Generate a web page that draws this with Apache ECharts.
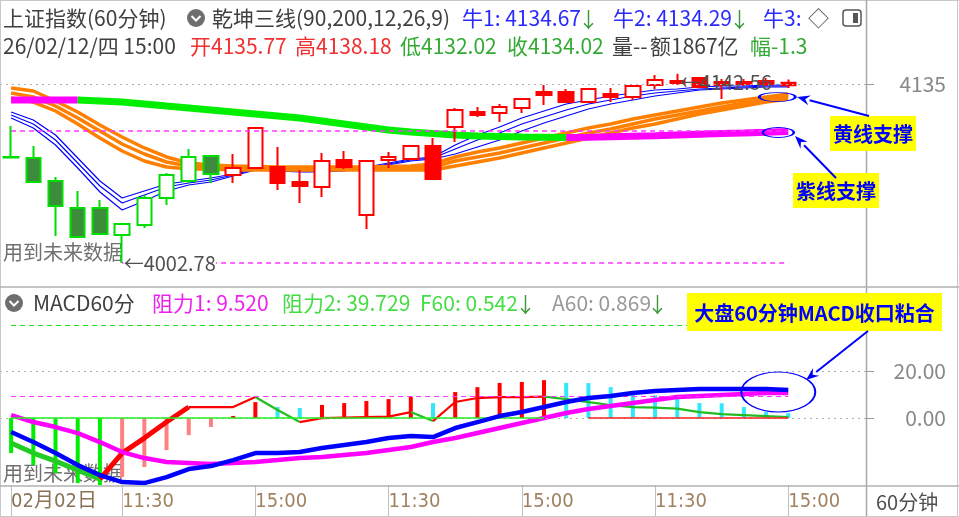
<!DOCTYPE html>
<html>
<head>
<meta charset="utf-8">
<script src="https://cdn.jsdelivr.net/npm/echarts@6/dist/echarts.min.js"></script>
<style>
html,body{margin:0;padding:0;background:#ffffff;}
#chart{width:959px;height:517px;}
</style>
</head>
<body>
<div id="chart"></div>
<script>
// ---------------- data ----------------
const barTimes = [
  '02/02 10:30','02/02 11:30','02/02 14:00','02/02 15:00',
  '02/03 10:30','02/03 11:30','02/03 14:00','02/03 15:00',
  '02/04 10:30','02/04 11:30','02/04 14:00','02/04 15:00',
  '02/05 10:30','02/05 11:30','02/05 14:00','02/05 15:00',
  '02/06 10:30','02/06 11:30','02/06 14:00','02/06 15:00',
  '02/09 10:30','02/09 11:30','02/09 14:00','02/09 15:00',
  '02/10 10:30','02/10 11:30','02/10 14:00','02/10 15:00',
  '02/11 10:30','02/11 11:30','02/11 14:00','02/11 15:00',
  '02/12 10:30','02/12 11:30','02/12 14:00','02/12 15:00'
];
const emptySlots = ['+1', '+2', '+3'];
const axisTickLabels = {0:'02月02日', 5:'11:30', 11:'15:00', 17:'11:30', 23:'15:00', 29:'11:30', 35:'15:00'};

// [open, close, low, high]
const candleOCLH = [
  [4081.0,4080.6,4080.3,4103.9],[4080.3,4062.6,4061.8,4089.1],[4063.3,4044.9,4022.7,4066.3],
  [4043.4,4022.0,4021.5,4055.9],[4043.4,4024.2,4023.4,4049.3],[4023.4,4031.6,4002.78,4032.3],
  [4030.8,4050.8,4028.6,4053.0],[4050.8,4067.7,4045.6,4069.2],[4063.3,4081.0,4061.8,4086.9],
  [4081.8,4068.5,4061.8,4082.5],[4067.7,4072.9,4061.8,4083.2],[4072.9,4102.4,4072.2,4103.2],
  [4073.6,4061.8,4056.7,4088.4],[4062.6,4059.6,4047.1,4071.4],[4058.9,4078.1,4051.5,4084.0],
  [4078.8,4073.6,4072.2,4085.4],[4038.2,4078.1,4027.9,4078.8],[4078.8,4081.0,4072.9,4084.7],
  [4079.5,4089.1,4078.8,4089.5],[4089.1,4064.8,4064.4,4095.0],[4103.2,4115.7,4092.1,4117.2],
  [4114.2,4112.0,4110.5,4117.9],[4113.5,4117.9,4106.9,4120.1],[4117.2,4123.8,4113.5,4124.6],
  [4129.0,4126.8,4119.4,4134.2],[4129.0,4121.6,4120.9,4131.2],[4121.6,4131.2,4120.9,4131.9],
  [4127.5,4125.3,4121.6,4132.0],[4125.3,4133.4,4123.1,4133.8],[4134.2,4137.9,4131.2,4141.5],
  [4135.6,4137.1,4134.2,4142.56],[4139.3,4132.7,4132.0,4140.1],[4136.4,4134.2,4123.8,4138.6],
  [4136.4,4134.9,4133.4,4138.6],[4137.1,4134.9,4133.4,4139.3],[4135.77,4134.02,4132.02,4138.18]
];
const greenPhaseBars = 10;
const lowPrice = 4002.78, lowIndex = 5;
const highPrice = 4142.56, highIndex = 30;
const purpleSupportLevel = 4100.6;
const priceGridValue = 4135;

const longLine = [4123.09,4123.09,4123.09,4123.09,4122.35,4121.61,4120.14,4118.66,4117.19,4115.71,
  4114.23,4112.76,4111.28,4109.80,4107.59,4105.38,4103.16,4100.95,4099.47,4098.36,
  4097.26,4096.52,4096.15,4095.78,4095.56,4095.34,4095.63,4096.00,4096.37,4096.74,
  4097.26,4097.77,4098.29,4098.73,4099.25,4099.84];
const orange1 = [4131.95,4129.73,4122.35,4114.23,4104.64,4095.78,4087.66,4081.02,4076.59,4075.11,
  4074.37,4074.00,4073.63,4073.63,4073.63,4073.63,4073.63,4074.00,4074.37,4075.85,
  4081.02,4084.71,4087.66,4091.35,4095.04,4098.73,4102.42,4105.38,4109.07,4112.02,
  4114.97,4117.92,4120.88,4123.09,4125.31,4127.52];
const orange2 = [4128.26,4125.31,4118.66,4109.80,4100.21,4090.61,4083.23,4077.32,4074.37,4073.63,
  4072.90,4072.90,4072.53,4072.53,4072.53,4072.53,4072.53,4072.90,4072.90,4073.63,
  4078.06,4081.02,4083.97,4087.66,4091.35,4095.04,4098.73,4101.68,4105.38,4109.07,
  4112.02,4114.97,4117.92,4120.88,4123.83,4126.04];
const orange3 = [4124.57,4121.61,4114.97,4105.38,4095.04,4085.44,4078.06,4073.63,4072.16,4072.16,
  4071.42,4071.42,4071.42,4071.42,4071.42,4071.42,4071.42,4071.42,4071.42,4071.42,
  4074.37,4077.32,4080.28,4083.97,4087.66,4091.35,4095.04,4098.73,4102.42,4105.38,
  4109.07,4112.76,4115.71,4118.66,4121.61,4123.83];
const blue1 = [4114.23,4108.33,4097.26,4080.28,4063.30,4050.75,4055.92,4061.09,4063.30,4065.52,
  4068.47,4072.90,4072.16,4071.42,4071.42,4072.16,4073.63,4076.59,4079.54,4081.02,
  4089.87,4097.26,4103.16,4109.80,4114.97,4120.14,4123.09,4126.04,4128.26,4130.47,
  4131.21,4132.69,4133.43,4133.43,4134.16,4134.16];
const blue2 = [4112.02,4105.38,4093.56,4076.59,4059.61,4047.06,4052.97,4058.87,4061.82,4064.04,
  4067.73,4072.16,4071.42,4070.68,4070.68,4071.42,4072.90,4075.85,4078.80,4080.28,
  4086.92,4093.56,4098.73,4105.38,4110.54,4115.71,4120.14,4123.09,4126.04,4128.26,
  4129.73,4131.21,4131.95,4132.69,4133.43,4133.43];
const blue3 = [4109.80,4102.42,4089.87,4072.90,4055.18,4041.89,4048.54,4055.92,4060.35,4062.56,
  4066.99,4071.42,4070.68,4069.94,4069.94,4070.68,4072.16,4075.11,4078.06,4079.54,
  4083.23,4088.40,4093.56,4100.21,4106.11,4111.28,4116.45,4120.14,4123.09,4126.04,
  4128.26,4130.47,4131.21,4131.95,4132.69,4132.69];

const macdDIF = [-5.98,-10.26,-14.96,-20.09,-24.36,-27.35,-27.78,-25.21,-21.79,-20.51,
  -17.95,-14.96,-14.96,-14.53,-12.82,-11.54,-10.26,-8.55,-7.69,-8.12,
  -4.27,-1.71,0.85,2.56,4.70,6.84,8.55,9.40,10.68,11.54,
  11.97,12.39,12.39,12.39,12.39,11.97];
const macdDEA = [1.28,-1.71,-3.85,-6.41,-10.26,-14.53,-17.09,-18.80,-19.23,-19.66,
  -19.23,-18.80,-17.95,-17.09,-16.67,-15.81,-14.96,-13.68,-12.39,-10.26,
  -8.55,-6.41,-4.27,-2.14,0.00,2.14,3.85,5.13,6.41,7.69,
  8.97,9.40,9.83,10.26,10.68,10.68];
const macdHist = [-14.96,-20.09,-23.5,-27.8,-28.6,-25.2,-20.9,-13.7,-7.3,-3.8,
  0.9,6.8,4.7,4.3,5.6,6.4,7.3,8.1,9.0,6.4,
  11.1,13.2,15.0,15.4,16.2,15.0,14.9,13.2,9.8,9.7,
  9.4,6.4,6.3,4.7,2.6,2.1];
const macdF = [-10.68,-14.96,-18.38,-22.22,-26.07,-14.96,-8.55,-1.71,4.70,4.70,
  4.70,8.97,3.42,-1.71,0.00,0.21,0.43,0.64,2.56,-1.28,
  6.84,8.55,8.97,8.97,9.19,8.12,6.84,5.56,4.70,4.49,
  4.06,2.56,1.71,1.28,0.85,0.43];
const resist1 = 9.52, resist2 = 39.729;
const zeroGreenRange = [0, 24], zeroRedRange = [26, 35];
const macdGridValues = [0, 20];

// ---------------- helpers ----------------
const FONT = '"Noto Sans CJK SC","Noto Sans",sans-serif';
const NARROW = '"Liberation Sans Narrow","DejaVu Sans Condensed","Noto Sans CJK SC",sans-serif';
const cats = barTimes.concat(emptySlots);
const lastIdx = barTimes.length - 1;

function colorRuns(vals, from, to) {
  const res = []; let cur = null;
  for (let i = from + 1; i <= to; i++) {
    const up = vals[i] >= vals[i - 1];
    if (!cur || cur.up !== up) { cur = {up, s: i - 1, e: i}; res.push(cur); } else cur.e = i;
  }
  return res;
}
function runSeries(vals, from, to, upColor, downColor, width, gi, z) {
  return colorRuns(vals, from, to).map(r => ({
    type: 'line', xAxisIndex: gi, yAxisIndex: gi, z, symbol: 'none', silent: true,
    data: vals.map((v, i) => (i >= r.s && i <= r.e) ? v : null),
    lineStyle: {color: r.up ? upColor : downColor, width}
  }));
}
function plainLine(vals, color, width, gi, z, extra) {
  return Object.assign({
    type: 'line', xAxisIndex: gi, yAxisIndex: gi, z, symbol: 'none', silent: true,
    data: vals, lineStyle: {color, width}
  }, extra || {});
}
function T(x, y, text, color, size, o) {
  o = o || {};
  return {type: 'text', x, y, z: o.z == null ? 100 : o.z, silent: true,
    style: {text, fill: color, font: (o.bold ? 'bold ' : '') + size + 'px ' + (o.family || FONT),
      textAlign: o.align || 'left', textVerticalAlign: 'middle', align: o.align || 'left', verticalAlign: 'middle'}};
}
function L(x1, y1, x2, y2, color, w, dash) {
  return {type: 'line', z: 100, silent: true, shape: {x1, y1, x2, y2},
    style: {stroke: color, lineWidth: w || 1, lineDash: dash || null}};
}
function arrow(x1, y1, x2, y2, color) {
  const a = Math.atan2(y2 - y1, x2 - x1), len = 13, w = 5;
  const bx = x2 - len * Math.cos(a), by = y2 - len * Math.sin(a);
  const px = -Math.sin(a) * w, py = Math.cos(a) * w;
  return [L(x1, y1, bx, by, color, 2),
    {type: 'polygon', z: 100, silent: true, shape: {points: [[x2, y2], [bx + px, by + py], [bx + 0.35 * (x2 - bx), by + 0.35 * (y2 - by)], [bx - px, by - py]]}, style: {fill: color}}];
}
function labelBox(x, y, w, h, text, size) {
  return [{type: 'rect', z: 100, silent: true, shape: {x, y, width: w, height: h}, style: {fill: '#ffff00'}},
    T(x + w / 2, y + h / 2 + 1, text, '#0000ff', size, {bold: true, align: 'center'})];
}

const candleData = candleOCLH.map((v, i) => {
  const down = v[1] < v[0];
  const green = i < greenPhaseBars;
  const edge = green ? '#00dd00' : '#ff0000';
  const fill = down ? (green ? '#3c8c3c' : '#ff0000') : '#ffffff';
  return {value: v, itemStyle: {color: fill, color0: fill, borderColor: edge, borderColor0: edge}};
});

const histData = macdHist.map((v, i) => {
  const prev = i > 0 ? macdHist[i - 1] : v;
  const rising = v > prev;
  const color = v < 0 ? (rising ? '#ff8080' : '#00ee00') : (rising ? '#ff0000' : '#30e8f8');
  return {value: v, itemStyle: {color}};
});

const ellipseStyle = {color: 'rgba(0,0,0,0)', borderColor: '#0000ff', borderWidth: 1.5};

const series = [];
// reference lines (main)
series.push(plainLine(blue3, '#0000ff', 1.2, 0, 2, {
  markLine: {symbol: 'none', silent: true, animation: false, label: {show: false},
    data: [
      {yAxis: priceGridValue, lineStyle: {type: [2, 4], color: '#b0b0b0', width: 1}},
      [{coord: [0, purpleSupportLevel], lineStyle: {type: [5, 4], color: '#ff33ff', width: 1.5}}, {coord: [lastIdx, purpleSupportLevel]}],
      [{coord: [lowIndex, lowPrice], lineStyle: {type: [5, 4], color: '#ff33ff', width: 1.5}}, {coord: [lastIdx, lowPrice]}]
    ]}
}));
series.push(plainLine(blue2, '#0000ff', 1.2, 0, 2));
series.push(plainLine(blue1, '#0000ff', 1.2, 0, 2));
series.push(plainLine(orange3, '#ff8000', 3.5, 0, 2));
series.push(plainLine(orange2, '#ff8000', 3.5, 0, 2));
series.push(plainLine(orange1, '#ff8000', 3.5, 0, 2));
series.push(...runSeries(longLine, 0, lastIdx, '#ff00ff', '#00ee00', 7, 0, 2));
series.push({
  type: 'candlestick', xAxisIndex: 0, yAxisIndex: 0, z: 3, barWidth: 15, silent: true,
  itemStyle: {borderWidth: 2},
  data: candleData,
  markPoint: {silent: true, animation: false,
    data: [
      {coord: [lowIndex, lowPrice], symbol: 'circle', symbolSize: 1, itemStyle: {color: 'rgba(0,0,0,0)'},
        label: {show: true, position: 'right', distance: 1, formatter: '←' + lowPrice.toFixed(2), color: '#505050', fontSize: 20, fontFamily: FONT, backgroundColor: '#ffffff'}},
      {coord: [highIndex, highPrice], symbol: 'circle', symbolSize: 1, itemStyle: {color: 'rgba(0,0,0,0)'},
        label: {show: true, position: 'right', distance: 2, offset: [0, 9], formatter: '←' + highPrice.toFixed(2), color: '#505050', fontSize: 20, fontFamily: FONT}},
      {coord: [lastIdx, orange2[lastIdx]], symbol: 'circle', symbolSize: [36, 9], symbolOffset: [-11, 1], itemStyle: ellipseStyle, label: {show: false}},
      {coord: [lastIdx, longLine[lastIdx]], symbol: 'circle', symbolSize: [31, 10], symbolOffset: [-10, 1], itemStyle: ellipseStyle, label: {show: false}}
    ]}
});

// MACD panel
series.push({
  type: 'bar', xAxisIndex: 1, yAxisIndex: 1, z: 2, barWidth: 4, silent: true, data: histData,
  markLine: {symbol: 'none', silent: true, animation: false, label: {show: false},
    data: [
      {yAxis: macdGridValues[0], lineStyle: {type: [2, 4], color: '#b0b0b0', width: 1}},
      {yAxis: macdGridValues[1], lineStyle: {type: [2, 4], color: '#b0b0b0', width: 1}},
      [{coord: [0, resist2], lineStyle: {type: [5, 4], color: '#22dd22', width: 1.2}}, {coord: [lastIdx, resist2]}],
      [{coord: [0, resist1], lineStyle: {type: [5, 4], color: '#ff33ff', width: 1.2}}, {coord: [lastIdx, resist1]}],
      [{coord: [zeroGreenRange[0], 0], lineStyle: {type: 'solid', color: '#22ee22', width: 1.5}}, {coord: [zeroGreenRange[1], 0]}],
      [{coord: [zeroRedRange[0], 0], lineStyle: {type: 'solid', color: '#ff2020', width: 1.5}}, {coord: [zeroRedRange[1], 0]}]
    ]}
});
series.push(...runSeries(macdF, 0, 8, '#ff0000', '#22cc22', 5, 1, 3));
series.push(...runSeries(macdF, 8, lastIdx, '#ff0000', '#22bb22', 2.2, 1, 3));
series.push(plainLine(macdDEA, '#ff00ff', 4.5, 1, 4, {
  markPoint: {silent: true, animation: false, data: [
    {coord: [lastIdx, macdDEA[lastIdx]], symbol: 'circle', symbolSize: [74, 40], symbolOffset: [-10, -1], itemStyle: ellipseStyle, label: {show: false}}
  ]}
}));
series.push(plainLine(macdDIF, '#0000ff', 4.5, 1, 5));

const axisLabelStyle = {color: '#888888', fontSize: 21, fontFamily: FONT};
const isTick = (i) => axisTickLabels[i] !== undefined;

const HS = 21; // header font size
const graphic = [];
// frame
graphic.push(L(0, 0.5, 959, 0.5, '#c8c8c8', 1));
graphic.push(L(0.5, 0, 0.5, 517, '#c8c8c8', 1));
graphic.push(L(866.5, 0, 866.5, 517, '#a8a8a8', 1.5));
graphic.push(L(957.5, 0, 957.5, 517, '#c8c8c8', 1));
graphic.push(L(0, 287, 959, 287, '#b0b0b0', 1.5));
graphic.push(L(0, 486, 959, 486, '#b0b0b0', 1.5));
graphic.push(L(0, 516.5, 959, 516.5, '#c8c8c8', 1));
// header line 1
graphic.push(T(3, 18, '上证指数(60分钟)', '#404040', HS));
graphic.push({type: 'circle', z: 100, silent: true, shape: {cx: 196, cy: 18, r: 9}, style: {fill: '#6e6e6e'}});
graphic.push({type: 'polyline', z: 101, silent: true, shape: {points: [[191.5, 16], [196, 20.5], [200.5, 16]]}, style: {stroke: '#ffffff', lineWidth: 2, fill: null}});
graphic.push(T(212, 18, '乾坤三线(90,200,12,26,9)', '#404040', HS));
graphic.push(T(462, 18, '牛1: 4134.67', '#2a2aff', HS));
graphic.push(T(578, 19, '↓', '#3a9a3a', HS));
graphic.push(T(613, 18, '牛2: 4134.29', '#2a2aff', HS));
graphic.push(T(729, 19, '↓', '#3a9a3a', HS));
graphic.push(T(763, 18, '牛3:', '#2a2aff', HS));
graphic.push(T(808, 18, '◇', '#555555', HS));
graphic.push({type: 'rect', z: 100, silent: true, shape: {x: 843, y: 10, width: 18, height: 16, r: 3}, style: {stroke: '#555555', lineWidth: 1.5, fill: null}});
graphic.push({type: 'rect', z: 100, silent: true, shape: {x: 853, y: 13, width: 5, height: 10}, style: {fill: '#555555'}});
// header line 2
graphic.push(T(3, 46, '26/02/12/四 15:00', '#404040', HS));
graphic.push(T(190, 46, '开4135.77', '#f03030', HS));
graphic.push(T(295, 46, '高4138.18', '#f03030', HS));
graphic.push(T(400, 46, '低4132.02', '#33aa33', HS));
graphic.push(T(507, 46, '收4134.02', '#33aa33', HS));
graphic.push(T(612, 46, '量--', '#404040', HS));
graphic.push(T(650, 46, '额1867亿', '#404040', HS));
graphic.push(T(750, 46, '幅-1.3', '#33aa33', HS));
// MACD header
graphic.push({type: 'circle', z: 100, silent: true, shape: {cx: 14, cy: 303, r: 9}, style: {fill: '#6e6e6e'}});
graphic.push({type: 'polyline', z: 101, silent: true, shape: {points: [[9.5, 301], [14, 305.5], [18.5, 301]]}, style: {stroke: '#ffffff', lineWidth: 2, fill: null}});
graphic.push(T(33, 303, 'MACD60分', '#404040', HS));
graphic.push(T(152, 303, '阻力1: 9.520', '#ee22ee', HS));
graphic.push(T(282, 303, '阻力2: 39.729', '#44dd44', HS));
graphic.push(T(420, 303, 'F60: 0.542', '#44dd44', HS));
graphic.push(T(515, 304, '↓', '#3a9a3a', HS));
graphic.push(T(552, 303, 'A60: 0.869', '#999999', HS));
graphic.push(T(647, 304, '↓', '#3a9a3a', HS));
// side notes
graphic.push(T(3, 252, '用到未来数据', '#707070', 20, {z: 1}));
graphic.push(T(3, 473, '用到未来数据', '#707070', 20, {z: 1}));
graphic.push(T(876, 502, '60分钟', '#505050', 20));
// annotations
graphic.push(...labelBox(830, 116, 86, 35, '黄线支撑', 20));
graphic.push(...labelBox(793, 173, 86, 35, '紫线支撑', 20));
graphic.push(...labelBox(687, 293, 255, 38, '大盘60分钟MACD收口粘合', 20));
graphic.push(...arrow(869, 116, 797, 97, '#0000ff'));
graphic.push(...arrow(836, 178, 795, 136, '#0000ff'));
graphic.push(...arrow(868, 331, 806, 380, '#0000ff'));

const option = {
  animation: false,
  backgroundColor: '#ffffff',
  textStyle: {fontFamily: FONT},
  grid: [
    {left: -1, width: 867, top: 50, height: 233, containLabel: false},
    {left: -1, width: 867, top: 312, height: 173, containLabel: false}
  ],
  xAxis: [
    {type: 'category', gridIndex: 0, data: cats, boundaryGap: true,
      axisLine: {show: false, onZero: false}, axisTick: {show: false}, axisLabel: {show: false}, splitLine: {show: false}},
    {type: 'category', gridIndex: 1, data: cats, boundaryGap: true, position: 'bottom',
      axisLine: {show: false, onZero: false},
      axisTick: {show: true, alignWithLabel: true, interval: (i) => isTick(i), length: 31, lineStyle: {color: '#c0c0c0', width: 1}},
      axisLabel: {show: true, interval: (i) => isTick(i),
        formatter: (v, i) => i === 0 ? '{d|' + axisTickLabels[i] + '}' : (axisTickLabels[i] || ''),
        align: 'left', margin: 7, color: '#a08260', fontSize: 20, fontFamily: NARROW,
        rich: {d: {fontSize: 20, fontFamily: NARROW, color: '#8a7258'}}},
      splitLine: {show: false}}
  ],
  yAxis: [
    {type: 'value', gridIndex: 0, position: 'right', min: 3988, max: 4160,
      axisLine: {show: false}, splitLine: {show: false},
      axisTick: {show: true, customValues: [priceGridValue], length: 8, lineStyle: {color: '#999999'}},
      axisLabel: Object.assign({customValues: [priceGridValue], align: 'right', margin: 80, formatter: (v) => String(Math.round(v))}, axisLabelStyle)},
    {type: 'value', gridIndex: 1, position: 'right', min: -28.6, max: 45.3,
      axisLine: {show: false}, splitLine: {show: false},
      axisTick: {show: true, customValues: macdGridValues, length: 8, lineStyle: {color: '#999999'}},
      axisLabel: Object.assign({customValues: macdGridValues, align: 'right', margin: 80, formatter: (v) => v.toFixed(2)}, axisLabelStyle)}
  ],
  series,
  graphic: {elements: graphic}
};

const chart = echarts.init(document.getElementById('chart'), null, {renderer: 'canvas'});
chart.setOption(option);
</script>
</body>
</html>
